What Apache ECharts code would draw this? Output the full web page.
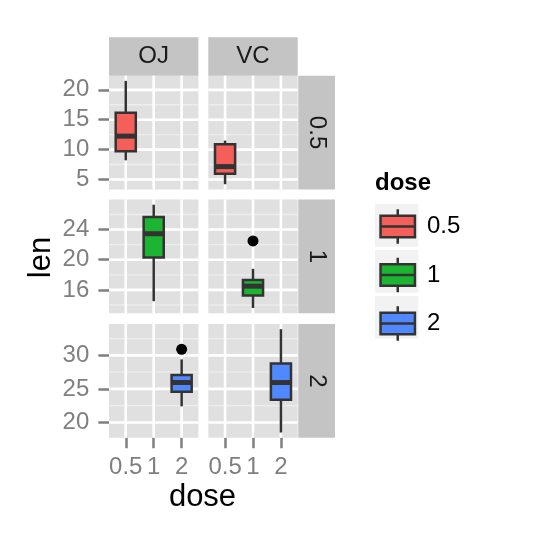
<!DOCTYPE html>
<html><head><meta charset="utf-8">
<script src="https://cdn.jsdelivr.net/npm/echarts@6/dist/echarts.min.js"></script>
<style>html,body{margin:0;padding:0;background:#fff}#c{width:537px;height:537px}</style>
</head><body><div id="c"></div>
<script>
// ---- data ----
const supps = ['OJ', 'VC'];
const doseLevels = ['0.5', '1', '2'];
const doseColors = ['#F45F5A', '#1CB531', '#5088FF'];
// boxplot stats per dose: [min, Q1, median, Q3, max]
const ojStats = [[8.2, 9.7, 12.25, 16.175, 21.5], [14.5, 20.3, 23.45, 25.65, 27.3], [22.4, 24.575, 25.95, 27.075, 29.4]];
const vcStats = [[4.2, 5.95, 7.15, 10.9, 11.5], [13.6, 15.275, 16.5, 17.3, 18.8], [18.5, 23.375, 25.95, 28.8, 33.9]];
const ojOutliers = [[], [], [30.9]];
const vcOutliers = [[], [22.5], []];
const rowRanges = [[3.335, 22.365], [12.915, 27.985], [17.73, 34.67]];
const rowTicks = [[5, 10, 15, 20], [16, 20, 24], [20, 25, 30]];
const rowMinor = [[7.5, 12.5, 17.5], [14, 18, 22, 26], [22.5, 27.5, 32.5]];
const xPositions = [1, 2, 3];
const xRange = [0.4, 3.6];
const yTitle = 'len';
const xTitle = 'dose';
const legendTitle = 'dose';

// ---- layout ----
const colLeft = [109, 208.3];
const panelW = 89.4;
const rowTop = [75.7, 199.5, 324.0];
const panelH = 113.7;
const stripTopY = 37.3, stripTopH = 38.4;
const stripRightX = 298.3, stripRightW = 36.7;
const FONT = 'Liberation Sans, Arial, Helvetica, sans-serif';
const PANEL_BG = '#E0E0E0', STRIP_BG = '#C4C4C4', MINOR = '#EDEDED';
const statsBySupp = [ojStats, vcStats];
const outBySupp = [ojOutliers, vcOutliers];
const boxWidth = 0.72;

const grids = [], xAxes = [], yAxes = [], series = [];
for (let r = 0; r < 3; r++) {
  for (let c = 0; c < 2; c++) {
    const idx = r * 2 + c;
    grids.push({left: colLeft[c], top: rowTop[r], width: panelW, height: panelH,
      show: true, backgroundColor: PANEL_BG, borderWidth: 0, containLabel: false});
    const bottom = r === 2, leftCol = c === 0;
    xAxes.push({type: 'value', gridIndex: idx, min: xRange[0], max: xRange[1],
      axisLine: {show: false}, splitLine: {show: false},
      axisTick: {show: bottom, customValues: xPositions, length: 10.6, lineStyle: {color: '#7F7F7F', width: 2.5}},
      axisLabel: {show: bottom, customValues: xPositions, margin: 18, fontSize: 24, color: '#7F7F7F', fontFamily: FONT,
        formatter: v => doseLevels[xPositions.indexOf(Math.round(v))]}
    });
    yAxes.push({type: 'value', gridIndex: idx, min: rowRanges[r][0], max: rowRanges[r][1],
      axisLine: {show: false}, splitLine: {show: false},
      axisTick: {show: leftCol, customValues: rowTicks[r], length: 10.6, lineStyle: {color: '#7F7F7F', width: 2.5}},
      axisLabel: {show: leftCol, customValues: rowTicks[r], margin: 19.7, fontSize: 24, color: '#7F7F7F', fontFamily: FONT,
        formatter: v => String(v)}
    });
    // gridlines
    const gdata = [].concat(rowMinor[r].map(v => [1, v]), rowTicks[r].map(v => [0, v]), xPositions.map(v => [2, v]));
    const yMin = rowRanges[r][0];
    series.push({type: 'custom', xAxisIndex: idx, yAxisIndex: idx, silent: true, z: 1, data: gdata,
      renderItem: (params, api) => {
        const kind = api.value(0), v = api.value(1), cs = params.coordSys;
        if (kind === 2) {
          const px = api.coord([v, yMin])[0];
          return {type: 'line', shape: {x1: px, y1: cs.y, x2: px, y2: cs.y + cs.height}, style: {stroke: '#FFFFFF', lineWidth: 2.6}};
        }
        const py = api.coord([1, v])[1];
        return {type: 'line', shape: {x1: cs.x, y1: py, x2: cs.x + cs.width, y2: py},
          style: {stroke: kind === 0 ? '#FFFFFF' : MINOR, lineWidth: kind === 0 ? 2.6 : 1.3}};
      }
    });
    // box
    series.push({type: 'custom', name: doseLevels[r], xAxisIndex: idx, yAxisIndex: idx, silent: true, z: 2,
      itemStyle: {color: doseColors[r]},
      data: [[xPositions[r]].concat(statsBySupp[c][r])],
      renderItem: (params, api) => {
        const x = api.value(0);
        const p = [1, 2, 3, 4, 5].map(i => api.coord([x, api.value(i)]));
        const w = api.size([boxWidth, 0])[0];
        const cx = p[0][0];
        const ln = {stroke: '#333333', lineWidth: 2.5};
        return {type: 'group', children: [
          {type: 'line', shape: {x1: cx, y1: p[0][1], x2: cx, y2: p[1][1]}, style: ln},
          {type: 'line', shape: {x1: cx, y1: p[3][1], x2: cx, y2: p[4][1]}, style: ln},
          {type: 'rect', shape: {x: cx - w / 2, y: p[3][1], width: w, height: p[1][1] - p[3][1]},
            style: {fill: api.visual('color'), stroke: '#333333', lineWidth: 2.5}},
          {type: 'line', shape: {x1: cx - w / 2, y1: p[2][1], x2: cx + w / 2, y2: p[2][1]}, style: {stroke: '#333333', lineWidth: 5}}
        ]};
      }
    });
    if (outBySupp[c][r].length) {
      series.push({type: 'scatter', xAxisIndex: idx, yAxisIndex: idx, silent: true, z: 3,
        symbol: 'circle', symbolSize: 11, itemStyle: {color: '#000000', opacity: 1},
        data: outBySupp[c][r].map(v => [xPositions[r], v])});
    }
  }
}

// ---- graphics: strips, titles, legend key backgrounds ----
const graphics = [];
for (let c = 0; c < 2; c++) {
  graphics.push({type: 'rect', left: colLeft[c], top: stripTopY, shape: {width: panelW, height: stripTopH}, style: {fill: STRIP_BG}, z: 0});
  graphics.push({type: 'text', x: colLeft[c] + panelW / 2, y: stripTopY + stripTopH / 2,
    style: {text: supps[c], font: '24px ' + FONT, fill: '#1A1A1A', align: 'center', verticalAlign: 'middle'}, z: 1});
}
for (let r = 0; r < 3; r++) {
  graphics.push({type: 'rect', left: stripRightX, top: rowTop[r], shape: {width: stripRightW, height: panelH}, style: {fill: STRIP_BG}, z: 0});
  graphics.push({type: 'text', x: stripRightX + stripRightW / 2, y: rowTop[r] + panelH / 2, rotation: -Math.PI / 2,
    style: {text: doseLevels[r], font: '24px ' + FONT, fill: '#1A1A1A', align: 'center', verticalAlign: 'middle'}, z: 1});
}
graphics.push({type: 'text', x: 41.3, y: 257.5, rotation: Math.PI / 2,
  style: {text: yTitle, font: '31px ' + FONT, fill: '#000', align: 'center', verticalAlign: 'middle'}});
graphics.push({type: 'text', x: 202.5, y: 497.9,
  style: {text: xTitle, font: '31px ' + FONT, fill: '#000', align: 'center', verticalAlign: 'middle'}});
graphics.push({type: 'text', x: 375, y: 183.4,
  style: {text: legendTitle, font: 'bold 24px ' + FONT, fill: '#000', align: 'left', verticalAlign: 'middle'}});
for (let k = 0; k < 3; k++) {
  graphics.push({type: 'rect', left: 375, top: 204 + 46 * k, shape: {width: 43.3, height: 42.7}, style: {fill: '#F2F2F2'}, z: 0});
}

const boxIcon = 'path://M50,10L50,25M10,25L90,25L90,75L10,75ZM10,50L90,50M50,75L50,90';

const option = {
  animation: false,
  backgroundColor: '#FFFFFF',
  textStyle: {fontFamily: FONT},
  grid: grids, xAxis: xAxes, yAxis: yAxes, series: series,
  graphic: graphics,
  legend: {orient: 'vertical', left: 379.3, top: 208.1, padding: 0, itemWidth: 34.4, itemHeight: 34.4, itemGap: 11.6,
    selectedMode: false, z: 5,
    data: doseLevels.map(n => ({name: n, icon: boxIcon})),
    itemStyle: {borderColor: '#333333', borderWidth: 2.5},
    textStyle: {fontSize: 24, color: '#000000', fontFamily: FONT, padding: [0, 0, 0, 7]}}
};
const chart = echarts.init(document.getElementById('c'), null, {renderer: 'canvas'});
chart.setOption(option);
</script></body></html>
